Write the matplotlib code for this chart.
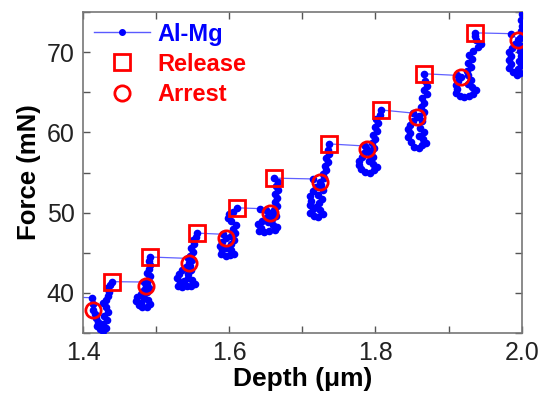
import matplotlib
matplotlib.use("Agg")
import matplotlib.pyplot as plt
from matplotlib.ticker import MultipleLocator
import numpy as np

plt.rcParams['font.family'] = ['Liberation Sans', 'DejaVu Sans']

# ---- data ----
# Al-Mg force-depth curve (clusters between pop-in events)
depth = [
    1.390, 1.412, 1.414, 1.413, 1.416, 1.418, 1.421, 1.419, 1.423, 1.427, 1.431, 1.428, 1.433, 1.429,
    1.434, 1.431, 1.427, 1.432, 1.434, 1.436, 1.433, 1.437, 1.439,
    1.484, 1.486, 1.483, 1.479, 1.474, 1.472, 1.476, 1.481, 1.487, 1.492, 1.489, 1.484, 1.479, 1.482,
    1.487, 1.490, 1.488, 1.489, 1.491, 1.487, 1.490, 1.492, 1.490, 1.4916,
    1.543, 1.545, 1.541, 1.536, 1.531, 1.529, 1.532, 1.530, 1.536, 1.542, 1.548, 1.553, 1.549, 1.543,
    1.538, 1.544, 1.548, 1.546, 1.549, 1.546, 1.550, 1.548, 1.552, 1.550, 1.554, 1.5555,
    1.592, 1.595, 1.590, 1.588, 1.590, 1.589, 1.595, 1.601, 1.607, 1.603, 1.597, 1.602, 1.606, 1.603,
    1.608, 1.605, 1.609, 1.603, 1.598, 1.600, 1.605, 1.610,
    1.642, 1.650, 1.656, 1.651, 1.645, 1.640, 1.643, 1.641, 1.648, 1.655, 1.662, 1.666, 1.660, 1.653,
    1.659, 1.664, 1.661, 1.665, 1.662, 1.666, 1.663, 1.667, 1.664, 1.667, 1.661,
    1.714, 1.724, 1.719, 1.714, 1.710, 1.712, 1.710, 1.714, 1.711, 1.716, 1.722, 1.728, 1.724, 1.718,
    1.723, 1.727, 1.722, 1.728, 1.726, 1.730, 1.728, 1.733, 1.731, 1.735, 1.733, 1.737, 1.735, 1.737,
    1.786, 1.789, 1.785, 1.781, 1.778, 1.777, 1.780, 1.786, 1.792, 1.798, 1.802, 1.797, 1.791, 1.796,
    1.793, 1.798, 1.795, 1.800, 1.797, 1.802, 1.799, 1.804, 1.801, 1.806, 1.807,
    1.852, 1.857, 1.852, 1.847, 1.845, 1.847, 1.845, 1.848, 1.853, 1.859, 1.864, 1.869, 1.865, 1.860,
    1.866, 1.861, 1.864, 1.860, 1.866, 1.862, 1.867, 1.864, 1.870, 1.866, 1.871, 1.868, 1.867,
    1.912, 1.917, 1.913, 1.910, 1.912, 1.910, 1.915, 1.921, 1.928, 1.934, 1.938, 1.932, 1.926, 1.931,
    1.927, 1.925, 1.930, 1.926, 1.932, 1.928, 1.934, 1.940, 1.945, 1.938, 1.936, 1.936,
    1.986, 1.995, 1.991, 1.987, 1.983, 1.986, 1.982, 1.985, 1.983, 1.988, 1.993, 1.998, 1.995, 1.999,
    1.996, 1.999, 1.997, 1.999, 1.998, 1.999, 2.000, 1.999, 2.001, 2.003,
]
force = [
    39.45, 39.4, 38.6, 37.9, 37.4, 36.9, 36.4, 35.9, 35.5, 35.2, 35.6, 36.1, 36.6, 37.1,
    37.6, 38.2, 38.7, 39.1, 39.6, 40.1, 40.6, 41.0, 41.4,
    41.35, 40.8, 40.3, 39.9, 39.5, 39.0, 38.5, 38.2, 38.3, 38.6, 39.1, 39.4, 38.8, 39.7,
    40.1, 40.6, 41.1, 41.6, 42.1, 42.5, 43.0, 43.5, 44.0, 44.47,
    44.3, 43.7, 43.2, 42.8, 42.3, 41.8, 41.3, 40.8, 40.7, 40.9, 40.8, 41.1, 41.6, 41.9,
    41.5, 42.4, 42.9, 43.4, 44.1, 44.6, 45.1, 45.6, 46.1, 46.6, 47.0, 47.45,
    47.3, 46.9, 46.4, 45.9, 45.3, 44.8, 44.6, 44.7, 44.9, 45.4, 45.6, 46.1, 46.6, 47.1,
    47.5, 48.0, 48.5, 48.9, 49.3, 49.8, 50.1, 50.6,
    50.5, 50.3, 49.9, 49.4, 49.0, 48.6, 48.1, 47.7, 47.6, 47.7, 47.8, 48.2, 48.5, 48.8,
    49.2, 49.6, 50.3, 50.8, 51.3, 51.8, 52.3, 52.8, 53.3, 53.8, 54.3,
    54.2, 53.8, 53.2, 52.7, 52.1, 51.5, 51.0, 50.5, 50.0, 49.6, 49.5, 49.8, 50.3, 50.7,
    51.2, 51.7, 52.2, 52.8, 53.4, 54.3, 54.8, 55.3, 55.8, 56.3, 56.8, 57.3, 57.8, 58.56,
    58.3, 57.9, 57.4, 56.9, 56.4, 55.9, 55.4, 55.1, 55.0, 55.3, 55.7, 56.1, 56.4, 56.9,
    57.4, 58.1, 58.7, 59.2, 59.7, 60.2, 60.7, 61.2, 61.7, 62.2, 62.8,
    62.4, 61.9, 61.4, 60.9, 60.4, 59.9, 59.4, 58.8, 58.2, 58.1, 58.4, 58.7, 59.2, 59.6,
    60.1, 60.6, 61.4, 62.0, 62.6, 63.2, 63.7, 64.3, 64.8, 65.3, 65.8, 66.4, 67.3,
    67.1, 66.9, 66.4, 65.9, 65.4, 64.9, 64.5, 64.4, 64.5, 64.8, 65.3, 65.7, 66.0, 66.5,
    67.1, 67.7, 68.2, 68.7, 69.2, 69.7, 70.2, 70.6, 71.0, 71.5, 72.0, 72.4,
    72.3, 71.5, 71.0, 70.5, 70.0, 69.5, 69.0, 68.5, 68.0, 67.5, 67.1, 67.4, 67.9, 68.4,
    68.9, 69.5, 70.1, 70.8, 71.8, 72.6, 73.3, 74.0, 74.7, 75.5,
]

release_depth = [1.439, 1.4916, 1.5555, 1.610, 1.661, 1.737, 1.807, 1.867, 1.936]
release_force = [41.4, 44.47, 47.45, 50.6, 54.3, 58.56, 62.8, 67.3, 72.4]

arrest_depth = [1.414, 1.486, 1.545, 1.595, 1.656, 1.724, 1.789, 1.857, 1.917, 1.995]
arrest_force = [37.9, 40.8, 43.7, 46.9, 49.9, 53.8, 57.9, 61.9, 66.9, 71.5]

x_ticks = [1.4, 1.6, 1.8, 2.0]
x_tick_labels = ["1.4", "1.6", "1.8", "2.0"]
y_ticks = [40, 50, 60, 70]

# ---- figure ----
fig = plt.figure(figsize=(5.41, 3.99), dpi=100)
ax = fig.add_axes([83 / 541, 1 - 333 / 399, (521.7 - 83) / 541, (333 - 12) / 399])

ax.plot(depth, force, '-', color='#6060ff', lw=0.9, zorder=2)
ax.plot(depth, force, 'o', color='#0000ff', ms=5.5, mew=0, zorder=3)
ax.plot([], [], '-', color='#5a5aff', lw=1.0, marker='o', ms=4,
        markerfacecolor='#0000ff', markeredgecolor='#0000ff', label='Al-Mg')
ax.plot(release_depth, release_force, 's', ms=11, mfc='none', mec='#ff0000', mew=2,
        zorder=4, label='Release')
ax.plot(arrest_depth, arrest_force, 'o', ms=11, mfc='none', mec='#ff0000', mew=2,
        zorder=4, label='Arrest')

ax.set_xlim(1.4, 2.0)
ax.set_ylim(35, 75)
ax.set_xticks(x_ticks)
ax.set_xticklabels(x_tick_labels)
ax.set_yticks(y_ticks)
ax.xaxis.set_minor_locator(MultipleLocator(0.1))
ax.yaxis.set_minor_locator(MultipleLocator(5))
ax.tick_params(which='both', direction='in', top=True, right=True, length=5,
               width=1, color='#555555', labelsize=18, labelcolor='#222222', pad=6)
for s in ax.spines.values():
    s.set_color('#777777')
    s.set_linewidth(1.2)

ax.set_xlabel('Depth (μm)', fontsize=19, fontweight='bold', labelpad=1)
ax.set_ylabel('Force (mN)', fontsize=18.5, fontweight='bold', labelpad=4)

leg = ax.legend(loc='upper left', frameon=False, handlelength=2.4,
                handletextpad=0.3, borderaxespad=0.1, borderpad=0.35, labelspacing=0.3,
                labelcolor=['#0000ff', '#ff0000', '#ff0000'],
                prop={'weight': 'bold', 'size': 17})

fig.savefig('out.png', dpi=100)
